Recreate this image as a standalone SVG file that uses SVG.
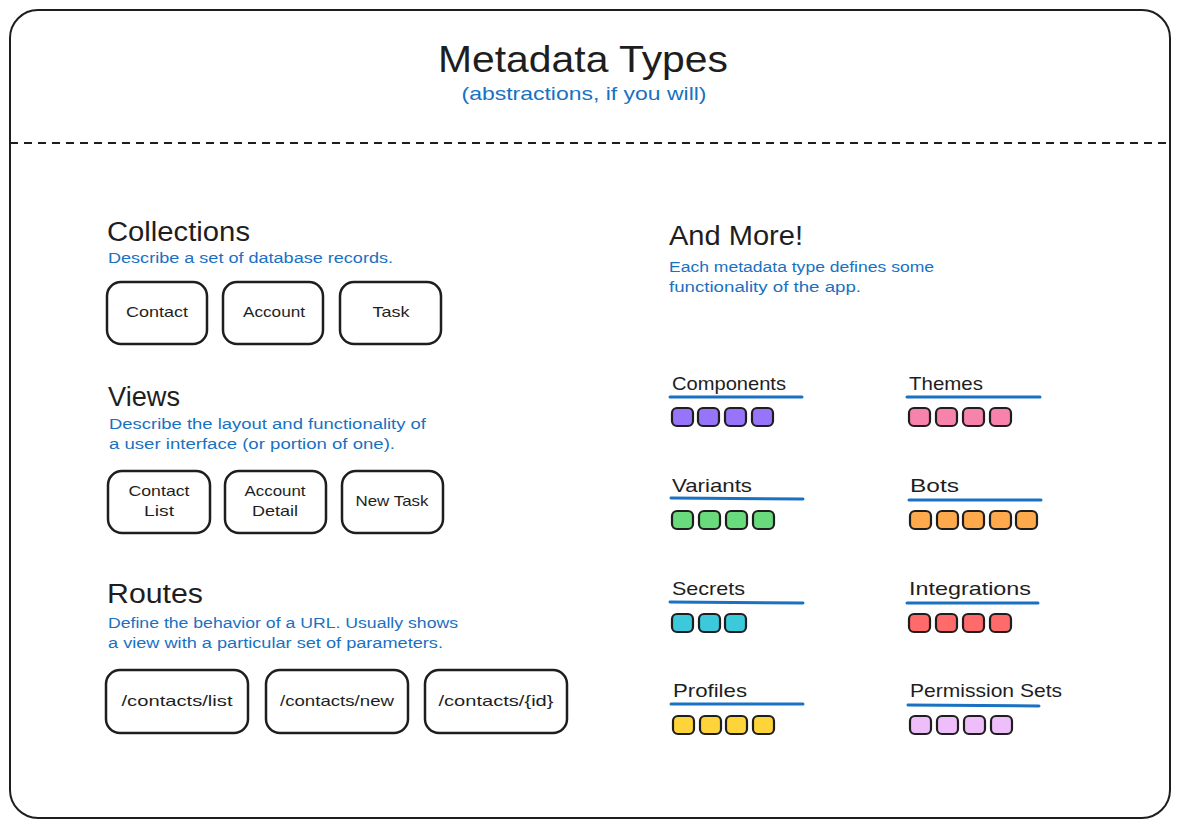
<svg xmlns="http://www.w3.org/2000/svg" width="1181" height="828" viewBox="0 0 1181 828">
<style>
text{font-family:"Liberation Sans",Arial,sans-serif;fill:#1e1e1e}
.h{font-size:27px}
.d{font-size:15.5px;fill:#1971c2}
.bt{font-size:15px;text-anchor:middle}
.box{fill:#fff;stroke:#1e1e1e;stroke-width:2.5}
.lbl{font-size:18.5px}
.ul{stroke:#1971c2;stroke-width:3;stroke-linecap:round}
.sq{stroke:#1e1e1e;stroke-width:2.2}
.pu{fill:#9775fa}.pk{fill:#f783ac}.gr{fill:#69db7c}.or{fill:#ffa94d}
.cy{fill:#3bc9db}.rd{fill:#ff6b6b}.ye{fill:#ffd43b}.lv{fill:#eebefa}
</style>
<rect width="1181" height="828" fill="#fff"/>
<g id="frame">
<rect x="10" y="10" width="1160" height="808" rx="28" fill="none" stroke="#1e1e1e" stroke-width="2"/>
<line x1="10" y1="143" x2="1170" y2="143" stroke="#1e1e1e" stroke-width="2" stroke-dasharray="8 6"/>
</g>
<g id="title">
<text x="583" y="72" font-size="36" text-anchor="middle" textLength="290" lengthAdjust="spacingAndGlyphs">Metadata Types</text>
<text x="584" y="100" font-size="19" text-anchor="middle" style="fill:#1971c2" textLength="245" lengthAdjust="spacingAndGlyphs">(abstractions, if you will)</text>
</g>
<g id="collections">
<text class="h" x="107" y="241" textLength="143" lengthAdjust="spacingAndGlyphs">Collections</text>
<text class="d" x="108" y="263" textLength="285" lengthAdjust="spacingAndGlyphs">Describe a set of database records.</text>
</g>
<g id="node-contact"><rect class="box" x="107" y="282" width="100" height="62" rx="14"/><text class="bt" x="157" y="317" textLength="62" lengthAdjust="spacingAndGlyphs">Contact</text></g>
<g id="node-account"><rect class="box" x="223" y="282" width="100" height="62" rx="14"/><text class="bt" x="274" y="317" textLength="62" lengthAdjust="spacingAndGlyphs">Account</text></g>
<g id="node-task"><rect class="box" x="340" y="282" width="101" height="62" rx="14"/><text class="bt" x="391" y="317" textLength="37" lengthAdjust="spacingAndGlyphs">Task</text></g>

<g id="views">
<text class="h" x="108" y="406" textLength="72" lengthAdjust="spacingAndGlyphs">Views</text>
<text class="d" x="109" y="429" textLength="317" lengthAdjust="spacingAndGlyphs">Describe the layout and functionality of</text>
<text class="d" x="109" y="449" textLength="286" lengthAdjust="spacingAndGlyphs">a user interface (or portion of one).</text>
</g>
<g id="node-contact-list"><rect class="box" x="108" y="471" width="102" height="62" rx="14"/><text class="bt" x="159" y="496" textLength="61" lengthAdjust="spacingAndGlyphs">Contact</text><text class="bt" x="159" y="516" textLength="30" lengthAdjust="spacingAndGlyphs">List</text></g>
<g id="node-account-detail"><rect class="box" x="225" y="471" width="101" height="62" rx="14"/><text class="bt" x="275" y="496" textLength="61" lengthAdjust="spacingAndGlyphs">Account</text><text class="bt" x="275" y="516" textLength="46" lengthAdjust="spacingAndGlyphs">Detail</text></g>
<g id="node-new-task"><rect class="box" x="342" y="471" width="101" height="62" rx="14"/><text class="bt" x="392" y="506" textLength="73" lengthAdjust="spacingAndGlyphs">New Task</text></g>

<g id="routes">
<text class="h" x="107" y="603" textLength="96" lengthAdjust="spacingAndGlyphs">Routes</text>
<text class="d" x="108" y="628" textLength="350" lengthAdjust="spacingAndGlyphs">Define the behavior of a URL. Usually shows</text>
<text class="d" x="108" y="648" textLength="335" lengthAdjust="spacingAndGlyphs">a view with a particular set of parameters.</text>
</g>
<g id="node-route-list"><rect class="box" x="106" y="670" width="142" height="63" rx="14"/><text class="bt" x="177" y="706" textLength="111" lengthAdjust="spacingAndGlyphs">/contacts/list</text></g>
<g id="node-route-new"><rect class="box" x="266" y="670" width="142" height="63" rx="14"/><text class="bt" x="337" y="706" textLength="114" lengthAdjust="spacingAndGlyphs">/contacts/new</text></g>
<g id="node-route-id"><rect class="box" x="425" y="670" width="142" height="63" rx="14"/><text class="bt" x="496" y="706" textLength="115" lengthAdjust="spacingAndGlyphs">/contacts/{id}</text></g>

<g id="more">
<text class="h" x="669" y="245" textLength="134" lengthAdjust="spacingAndGlyphs">And More!</text>
<text class="d" x="669" y="272" textLength="265" lengthAdjust="spacingAndGlyphs">Each metadata type defines some</text>
<text class="d" x="669" y="292" textLength="192" lengthAdjust="spacingAndGlyphs">functionality of the app.</text>
</g>

<g id="components">
<text class="lbl" x="672" y="390" textLength="114" lengthAdjust="spacingAndGlyphs">Components</text>
<line class="ul" x1="670" y1="397" x2="802" y2="397"/>
<rect class="sq pu" x="672" y="408" width="21" height="18" rx="5"/>
<rect class="sq pu" x="698" y="408" width="21" height="18" rx="5"/>
<rect class="sq pu" x="725" y="408" width="21" height="18" rx="5"/>
<rect class="sq pu" x="752" y="408" width="21" height="18" rx="5"/>
</g>
<g id="themes">
<text class="lbl" x="909" y="390" textLength="74" lengthAdjust="spacingAndGlyphs">Themes</text>
<line class="ul" x1="907" y1="397" x2="1040" y2="397"/>
<rect class="sq pk" x="909" y="408" width="21" height="18" rx="5"/>
<rect class="sq pk" x="936" y="408" width="21" height="18" rx="5"/>
<rect class="sq pk" x="963" y="408" width="21" height="18" rx="5"/>
<rect class="sq pk" x="990" y="408" width="21" height="18" rx="5"/>
</g>
<g id="variants">
<text class="lbl" x="672" y="492" textLength="80" lengthAdjust="spacingAndGlyphs">Variants</text>
<line class="ul" x1="671" y1="498" x2="803" y2="499"/>
<rect class="sq gr" x="672" y="511" width="21" height="18" rx="5"/>
<rect class="sq gr" x="699" y="511" width="21" height="18" rx="5"/>
<rect class="sq gr" x="726" y="511" width="21" height="18" rx="5"/>
<rect class="sq gr" x="753" y="511" width="21" height="18" rx="5"/>
</g>
<g id="bots">
<text class="lbl" x="910" y="492" textLength="49" lengthAdjust="spacingAndGlyphs">Bots</text>
<line class="ul" x1="909" y1="500" x2="1041" y2="500"/>
<rect class="sq or" x="910" y="511" width="21" height="18" rx="5"/>
<rect class="sq or" x="937" y="511" width="21" height="18" rx="5"/>
<rect class="sq or" x="963" y="511" width="21" height="18" rx="5"/>
<rect class="sq or" x="990" y="511" width="21" height="18" rx="5"/>
<rect class="sq or" x="1016" y="511" width="21" height="18" rx="5"/>
</g>
<g id="secrets">
<text class="lbl" x="672" y="595" textLength="73" lengthAdjust="spacingAndGlyphs">Secrets</text>
<line class="ul" x1="670" y1="602" x2="803" y2="603"/>
<rect class="sq cy" x="672" y="614" width="21" height="18" rx="5"/>
<rect class="sq cy" x="699" y="614" width="21" height="18" rx="5"/>
<rect class="sq cy" x="725" y="614" width="21" height="18" rx="5"/>
</g>
<g id="integrations">
<text class="lbl" x="909" y="595" textLength="122" lengthAdjust="spacingAndGlyphs">Integrations</text>
<line class="ul" x1="907" y1="603" x2="1038" y2="603"/>
<rect class="sq rd" x="909" y="614" width="21" height="18" rx="5"/>
<rect class="sq rd" x="936" y="614" width="21" height="18" rx="5"/>
<rect class="sq rd" x="963" y="614" width="21" height="18" rx="5"/>
<rect class="sq rd" x="990" y="614" width="21" height="18" rx="5"/>
</g>
<g id="profiles">
<text class="lbl" x="673" y="697" textLength="74" lengthAdjust="spacingAndGlyphs">Profiles</text>
<line class="ul" x1="671" y1="704" x2="803" y2="704"/>
<rect class="sq ye" x="673" y="716" width="21" height="18" rx="5"/>
<rect class="sq ye" x="700" y="716" width="21" height="18" rx="5"/>
<rect class="sq ye" x="726" y="716" width="21" height="18" rx="5"/>
<rect class="sq ye" x="753" y="716" width="21" height="18" rx="5"/>
</g>
<g id="permission-sets">
<text class="lbl" x="910" y="697" textLength="152" lengthAdjust="spacingAndGlyphs">Permission Sets</text>
<line class="ul" x1="908" y1="705" x2="1039" y2="706"/>
<rect class="sq lv" x="910" y="716" width="21" height="18" rx="5"/>
<rect class="sq lv" x="937" y="716" width="21" height="18" rx="5"/>
<rect class="sq lv" x="964" y="716" width="21" height="18" rx="5"/>
<rect class="sq lv" x="991" y="716" width="21" height="18" rx="5"/>
</g>
</svg>
